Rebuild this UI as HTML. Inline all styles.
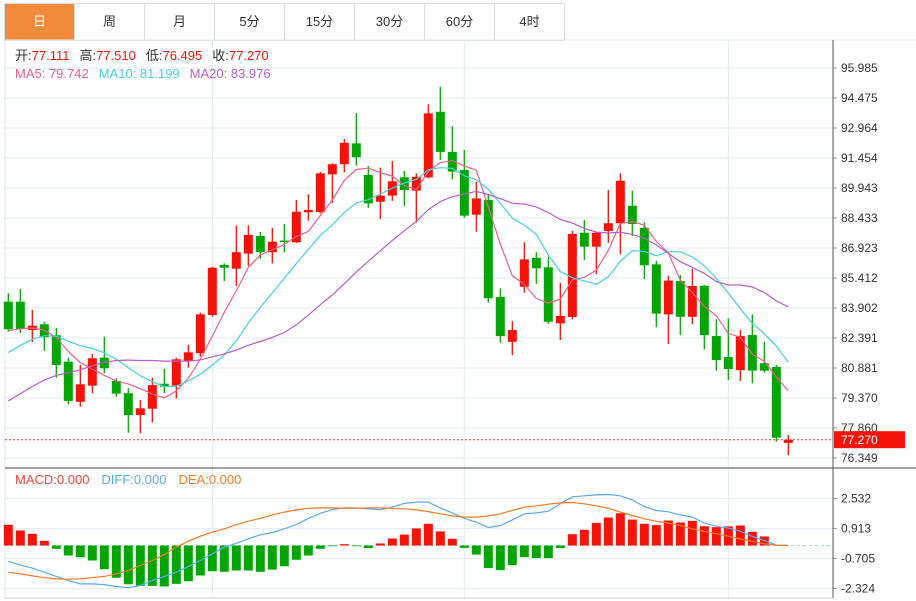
<!DOCTYPE html>
<html><head><meta charset="utf-8">
<style>
html,body{margin:0;padding:0;background:#fff;width:916px;height:601px;overflow:hidden;font-family:"Liberation Sans","Noto Sans CJK SC",sans-serif;}
#tabs{position:absolute;left:4px;top:3px;height:36px;display:flex;border:1px solid #dcdcdc;border-right:none;}
.tab{width:69px;height:36px;line-height:36px;text-align:center;font-size:13px;color:#333;border-right:1px solid #dcdcdc;background:#fff;}
.tab.on{background:#f28b3c;color:#fff;}
svg{position:absolute;left:0;top:0;}
</style></head><body>
<div id="tabs">
<div class="tab on">日</div>
<div class="tab">周</div>
<div class="tab">月</div>
<div class="tab">5分</div>
<div class="tab">15分</div>
<div class="tab">30分</div>
<div class="tab">60分</div>
<div class="tab">4时</div>
</div>
<svg id="chart" width="916" height="601"></svg>
<script>
const opens=[84.22,84.22,82.79,83.08,82.53,81.20,79.18,79.99,81.40,80.23,79.61,78.51,78.83,80.09,79.97,81.23,81.62,83.55,86.07,85.88,86.64,87.53,86.71,87.30,87.21,88.72,88.73,90.63,91.14,92.19,90.60,89.25,89.56,90.48,89.81,90.48,93.78,91.76,90.85,88.60,89.34,84.46,82.20,84.97,86.43,85.95,83.13,83.45,87.69,86.99,87.78,88.17,89.05,87.94,86.10,83.58,85.26,83.46,85.02,82.49,81.43,80.77,82.54,81.12,80.93,77.111];
const closes=[82.83,82.83,83.01,82.43,81.03,79.22,80.06,81.37,80.87,79.59,78.51,78.85,80.02,79.94,81.32,81.67,83.58,85.93,85.93,86.71,87.58,86.72,87.24,87.25,88.75,88.84,90.68,91.14,92.22,91.49,89.17,89.56,90.28,89.84,90.51,93.70,91.76,90.77,88.55,89.42,84.39,82.49,82.79,86.35,85.90,83.21,83.50,87.63,86.99,87.69,88.17,90.31,88.13,86.05,83.62,85.28,83.46,85.01,82.54,81.28,80.83,82.49,80.75,80.75,77.37,77.270];
const highs=[84.64,84.86,83.80,83.20,82.89,81.40,81.03,81.59,82.46,80.36,79.86,79.27,80.39,80.83,81.40,82.04,83.67,85.98,86.15,88.05,88.07,87.73,87.94,88.13,89.34,89.63,90.76,91.19,92.41,93.72,91.05,90.97,91.30,90.80,90.68,94.16,95.04,93.06,91.86,90.26,89.59,84.89,83.25,87.21,86.71,86.48,85.17,87.79,88.33,87.72,89.84,90.68,89.81,88.22,86.27,85.53,85.56,85.87,85.06,83.33,83.38,82.79,83.58,82.20,81.03,77.510];
const lows=[82.71,82.64,82.20,81.75,80.39,79.05,78.93,79.61,80.61,79.43,77.62,77.59,78.15,79.61,79.35,80.90,81.45,83.46,85.26,85.01,86.02,86.37,86.15,86.71,87.17,88.30,88.67,89.20,90.73,91.07,88.95,88.37,89.30,89.04,88.20,90.43,91.35,90.38,88.45,87.74,84.17,82.15,81.53,84.67,85.11,83.10,82.29,83.33,86.32,85.60,87.19,86.61,87.53,85.35,82.93,82.09,82.54,83.08,81.82,80.75,80.28,80.23,80.11,80.65,77.17,76.495];
const priorCloses=[75.5,75.8,76.0,76.3,76.6,77.0,77.2,77.5,77.8,78.1,79.2,80.0,80.6,81.3,81.75,82.3,82.8,83.0,82.83];
const macdHist=[1.12,0.81,0.63,0.25,-0.18,-0.54,-0.63,-0.81,-1.28,-1.74,-2.09,-2.18,-2.18,-2.21,-2.07,-1.93,-1.62,-1.39,-1.42,-1.35,-1.35,-1.42,-1.30,-1.12,-0.77,-0.54,-0.18,-0.04,0.07,-0.04,-0.14,0.11,0.38,0.59,0.92,1.17,0.76,0.36,-0.13,-0.49,-1.22,-1.33,-1.06,-0.63,-0.68,-0.68,-0.14,0.61,0.85,1.22,1.51,1.74,1.40,1.17,1.10,1.35,1.24,1.33,1.04,0.99,1.03,1.08,0.74,0.49,0,0];
const diffVals=[-0.85,-1.06,-1.22,-1.44,-1.67,-1.89,-2.07,-2.07,-2.11,-2.21,-2.28,-2.16,-1.89,-1.67,-1.44,-1.13,-0.81,-0.45,-0.09,0.12,0.36,0.58,0.70,0.90,1.13,1.47,1.74,1.94,2.03,2.03,1.98,1.93,2.07,2.27,2.34,2.34,2.03,1.76,1.47,1.26,0.97,1.08,1.38,1.71,1.76,1.85,2.25,2.63,2.68,2.73,2.75,2.68,2.46,2.10,1.89,1.82,1.65,1.53,1.21,1.04,0.94,0.77,0.49,0.27,0.02,0];
const deaVals=[-1.44,-1.53,-1.64,-1.74,-1.80,-1.82,-1.80,-1.74,-1.67,-1.53,-1.35,-1.08,-0.81,-0.49,-0.09,0.23,0.50,0.72,0.90,1.12,1.31,1.47,1.65,1.80,1.92,2.01,2.03,2.03,2.01,2.01,2.03,2.03,2.01,1.98,1.92,1.83,1.71,1.60,1.53,1.53,1.60,1.71,1.89,2.07,2.14,2.23,2.30,2.32,2.25,2.14,2.01,1.80,1.62,1.44,1.31,1.21,1.08,0.90,0.76,0.63,0.50,0.36,0.22,0.09,0.02,0];
const priceTicks=["95.985","94.475","92.964","91.454","89.943","88.433","86.923","85.412","83.902","82.391","80.881","79.370","77.860","76.349"];
const macdTicks=["2.532","0.913","-0.705","-2.324"];

const NS="http://www.w3.org/2000/svg";
const svg=document.getElementById('chart');
const pTop=95.985,pBot=76.349,yTop=68,yBot=458;
const yP=p=>yTop+(pTop-p)*(yBot-yTop)/(pTop-pBot);
const xI=i=>8.3+12*i;
const yM=v=>545.5-v*18.53;
function el(tag,attrs,parent){const e=document.createElementNS(NS,tag);for(const k in attrs)e.setAttribute(k,attrs[k]);(parent||svg).appendChild(e);return e;}
const RED="#f2140a",GREEN="#05a505";

// frames
let g=el('g',{});


priceTicks.forEach((t,k)=>{const v=parseFloat(t);const y=yP(v);
 el('line',{x1:5,x2:833,y1:y,y2:y,stroke:"#e3ebf2","stroke-width":1},g);
 const tx=el('text',{x:841,y:y+4,"font-size":12,fill:"#333"},g);tx.textContent=t;
 
 
 el('line',{x1:833,x2:837,y1:y,y2:y,stroke:"#999"},g);
});
macdTicks.forEach(t=>{const y=yM(parseFloat(t));
 el('line',{x1:5,x2:833,y1:y,y2:y,stroke:"#e3ebf2"},g);
 const tx=el('text',{x:841,y:y+4,"font-size":12,fill:"#333"},g);tx.textContent=t;
 
 
 el('line',{x1:833,x2:837,y1:y,y2:y,stroke:"#999"},g);
});
[212.3,464.3,728.3].forEach(x=>el('line',{x1:x,x2:x,y1:40,y2:598,stroke:"#e3ebf2"},g));
el('line',{x1:5,x2:5,y1:40,y2:598,stroke:"#dfe6ec"},g);
el('line',{x1:5,x2:916,y1:40,y2:40,stroke:"#e3ebf2"},g);
el('line',{x1:833,x2:833,y1:40,y2:598,stroke:"#555"},g);
el('line',{x1:5,x2:916,y1:468,y2:468,stroke:"#444"},g);
el('line',{x1:5,x2:833,y1:598,y2:598,stroke:"#ccc"},g);

// candles
closes.forEach((c,i)=>{const o=opens[i];const up=c>=o;const col=up?RED:GREEN;const x=xI(i);
 const cg=el('g',{});
 
 
 el('line',{x1:x,x2:x,y1:yP(highs[i]),y2:yP(lows[i]),stroke:col,"stroke-width":1.3},cg);
 const t=yP(Math.max(o,c)),b=yP(Math.min(o,c));
 el('rect',{x:x-4.5,y:t,width:9,height:Math.max(1.5,b-t),fill:col},cg);
});
// MAs
const all=priorCloses.concat(closes);
function ma(n){return closes.map((c,i)=>{const j=i+priorCloses.length;let s=0;for(let k=j-n+1;k<=j;k++)s+=all[k];return s/n;});}
[[5,"#ec5f8e","ma5-line"],[10,"#46cfe0","ma10-line"],[20,"#b45fc8","ma20-line"]].forEach(([n,col,nm])=>{
 const m=ma(n);const pts=m.map((v,i)=>xI(i)+","+yP(v).toFixed(1)).join(" ");
 const pl=el('polyline',{points:pts,fill:"none",stroke:col,"stroke-width":1.2});
 
 
});
// last price line
const lp=closes[closes.length-1];const ly=yP(lp);
const pline=el('line',{x1:5,x2:833,y1:ly,y2:ly,stroke:"#f03c3c","stroke-dasharray":"2,2"});


const lb=el('rect',{x:834,y:ly-8.5,width:71,height:17,fill:"#f5140a"});


const lt=el('text',{x:841,y:ly+4.5,"font-size":12,fill:"#fff"});lt.textContent=lp.toFixed(3);



// MACD
const z=yM(0);
const zl=el('line',{x1:5,x2:833,y1:z,y2:z,stroke:"#9fd6ea","stroke-dasharray":"3,3"});


macdHist.forEach((v,i)=>{if(v===0)return;const y=yM(v);
 const r=el('rect',{x:xI(i)-4.5,y:Math.min(y,z),width:9,height:Math.abs(y-z),fill:v>0?RED:GREEN});
 
 
});
[[diffVals,"#5aaaf0","diff-line"],[deaVals,"#f57a25","dea-line"]].forEach(([arr,col,nm])=>{
 const pl=el('polyline',{points:arr.map((v,i)=>xI(i)+","+yM(v).toFixed(1)).join(" "),fill:"none",stroke:col,"stroke-width":1.2});
 
 
});

// headers
function txt(x,y,parts,name){const t=el('text',{x:x,y:y,"font-size":13});
 
 
 parts.forEach(([s,c,dx])=>{const sp=el('tspan',{fill:c},t);if(dx)sp.setAttribute('dx',dx);sp.textContent=s;});}
txt(15,60,[["开:","#333"],["77.111","#f2140a"],["高:","#333",10],["77.510","#f2140a"],["低:","#333",10],["76.495","#f2140a"],["收:","#333",10],["77.270","#f2140a"]],'ohlc-legend');
txt(15,78,[["MA5: 79.742","#ec5f8e"],["MA10: 81.199","#46cfe0",10],["MA20: 83.976","#b45fc8",10]],'ma-legend');
txt(15,484,[["MACD:0.000","#f2453a"],["DIFF:0.000","#5aaaf0",12],["DEA:0.000","#f57a25",12]],'macd-legend');
</script>
</body></html>
